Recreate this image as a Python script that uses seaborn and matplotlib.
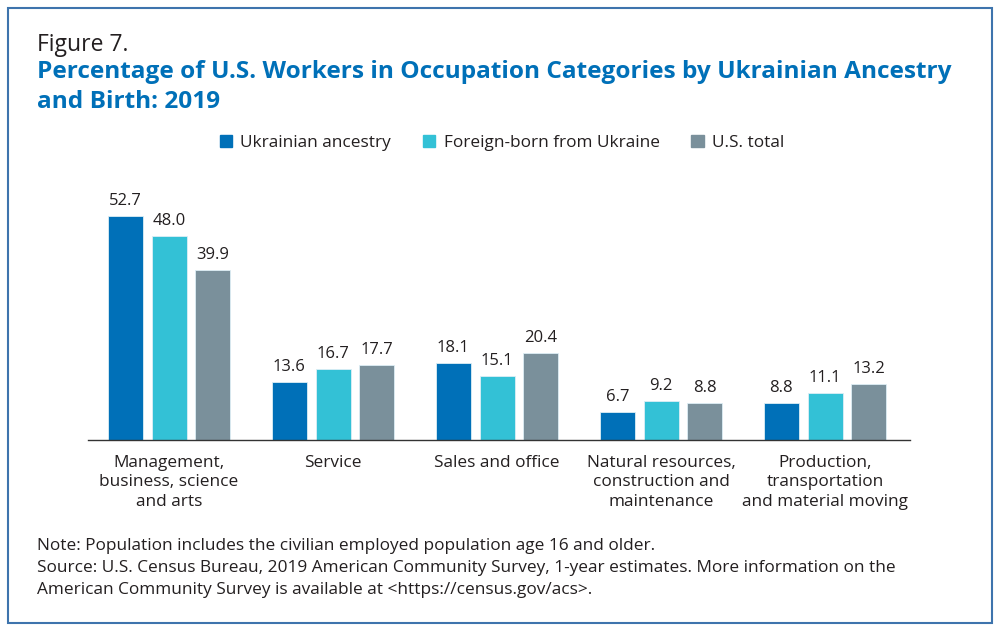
import seaborn as sns
import matplotlib.pyplot as plt
import matplotlib.patches as mpatches
import pandas as pd

categories = ['Management,\nbusiness, science\nand arts', 'Service', 'Sales and office',
              'Natural resources,\nconstruction and\nmaintenance',
              'Production,\ntransportation\nand material moving']
series_names = ['Ukrainian ancestry', 'Foreign-born from Ukraine', 'U.S. total']
ukrainian_ancestry = [52.7, 13.6, 18.1, 6.7, 8.8]
foreign_born = [48.0, 16.7, 15.1, 9.2, 11.1]
us_total = [39.9, 17.7, 20.4, 8.8, 13.2]
colors = ['#0070B8', '#33C1D6', '#7A909B']

rows = []
for name, vals in zip(series_names, [ukrainian_ancestry, foreign_born, us_total]):
    for cat, v in zip(categories, vals):
        rows.append({'cat': cat, 'series': name, 'value': v})
df = pd.DataFrame(rows)

sns.set_style('white')
plt.rcParams['font.family'] = ['Open Sans', 'DejaVu Sans']
text_col = '#231F20'

fig = plt.figure(figsize=(10, 6.31), dpi=100)
ax = fig.add_axes([0.088, 1 - 440 / 631, 0.822, 233.75 / 631])
sns.barplot(data=df, x='cat', y='value', hue='series', order=categories,
            hue_order=series_names, palette=colors, width=0.8, gap=0.2,
            saturation=1, edgecolor='#DDEEF5', linewidth=0.6, ax=ax, legend=False)

for cont in ax.containers:
    ax.bar_label(cont, fmt='%.1f', padding=5, fontsize=12, color=text_col)

ax.set_xlim(-0.494, 4.518)
ax.set_ylim(0, 55)
ax.set_xlabel('')
ax.set_ylabel('')
ax.set_yticks([])
for s in ['top', 'right', 'left']:
    ax.spines[s].set_visible(False)
ax.spines['bottom'].set_color('#333333')
ax.spines['bottom'].set_linewidth(1)
ax.tick_params(axis='x', length=0, pad=11)
plt.setp(ax.get_xticklabels(), fontsize=12.4, color=text_col, linespacing=1.26)

fig.text(0.037, 1 - 45 / 631, 'Figure 7.', fontsize=16.5, color=text_col, va='center')
fig.text(0.037, 1 - 87 / 631,
         'Percentage of U.S. Workers in Occupation Categories by Ukrainian Ancestry\nand Birth: 2019',
         fontsize=17.55, fontweight='bold', color='#0070B8', va='center', linespacing=1.29)

handles = [mpatches.Patch(color=c, label=n) for c, n in zip(colors, series_names)]
fig.legend(handles=handles, loc='center', bbox_to_anchor=(0.502, 1 - 143 / 631), ncol=3,
           frameon=False, fontsize=12.4, handlelength=0.7, handleheight=0.7,
           handletextpad=0.5, columnspacing=1.85, labelcolor=text_col)

fig.text(0.037, 1 - 546 / 631,
         'Note: Population includes the civilian employed population age 16 and older.',
         fontsize=12.4, color=text_col, va='center')
fig.text(0.037, 1 - 579 / 631,
         'Source: U.S. Census Bureau, 2019 American Community Survey, 1-year estimates. More information on the\n'
         'American Community Survey is available at <https://census.gov/acs>.',
         fontsize=12.4, color=text_col, va='center', linespacing=1.42)

border = mpatches.Rectangle((0.008, 0.013), 0.984, 0.974, transform=fig.transFigure,
                            fill=False, edgecolor='#3E74AD', linewidth=1.5)
fig.patches.append(border)

fig.savefig('out.png', dpi=100)
